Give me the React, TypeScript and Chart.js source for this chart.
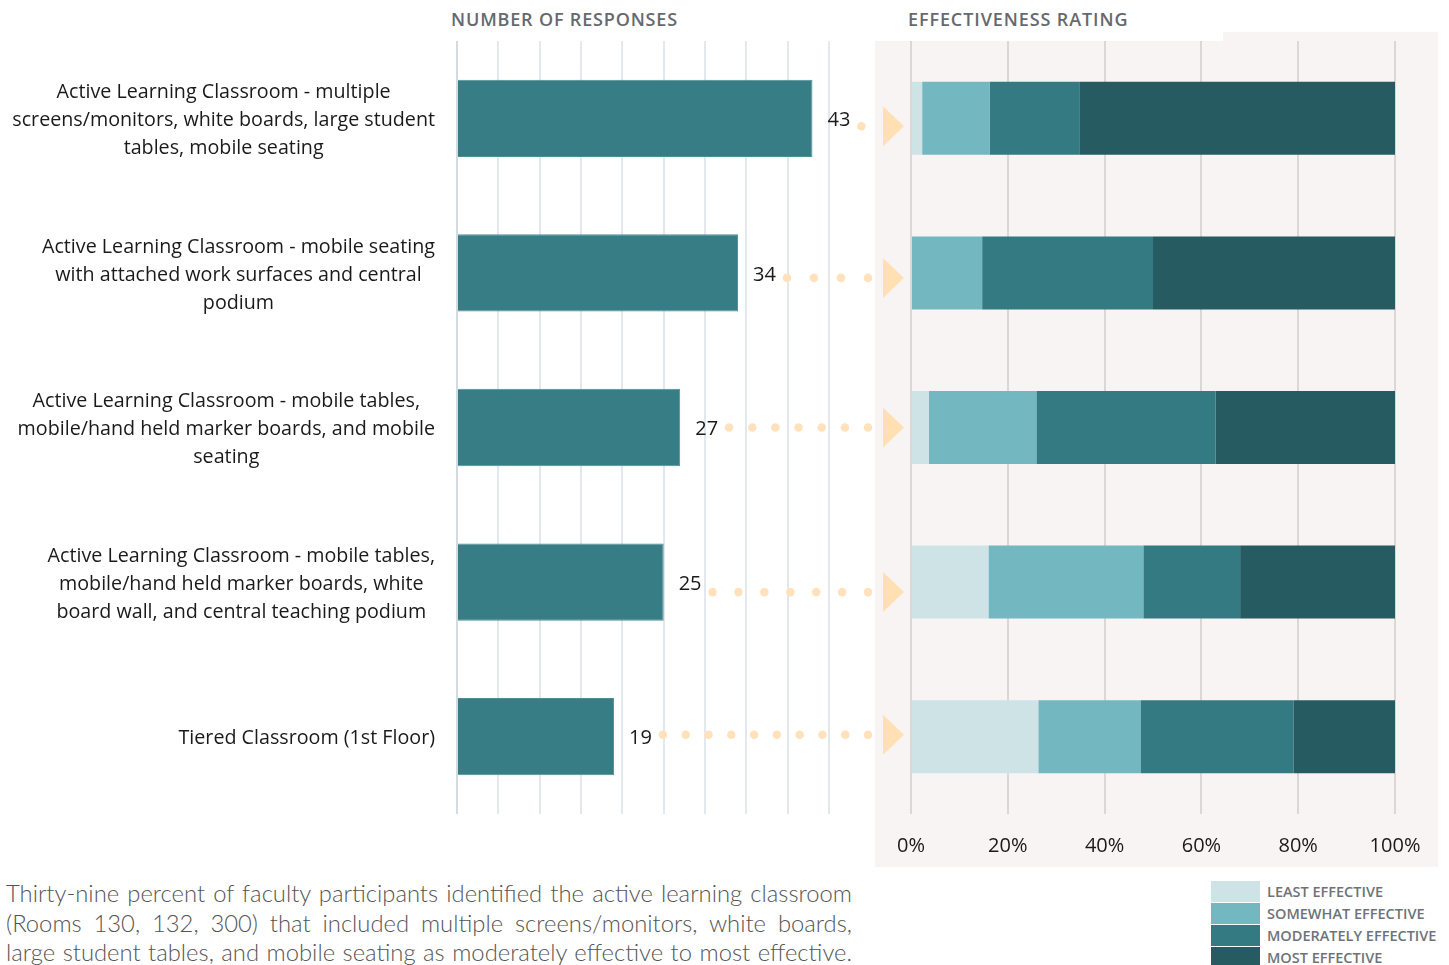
import React, { useEffect, useRef } from 'react';
import { Chart, registerables } from 'chart.js';
Chart.register(...registerables);

const categories: string[][] = [
  ['Active Learning Classroom - multiple', 'screens/monitors, white boards, large student', 'tables, mobile seating'],
  ['Active Learning Classroom - mobile seating', 'with attached work surfaces and central', 'podium'],
  ['Active Learning Classroom - mobile tables,', 'mobile/hand held marker boards, and mobile', 'seating'],
  ['Active Learning Classroom - mobile tables,', 'mobile/hand held marker boards, white', 'board wall, and central teaching podium'],
  ['Tiered Classroom (1st Floor)'],
];
const responses = [43, 34, 27, 25, 19];
const leastEffective = [2.3, 0, 3.7, 16, 26.3];
const somewhatEffective = [14.0, 14.7, 22.2, 32, 21.1];
const moderatelyEffective = [18.6, 35.3, 37.0, 20, 31.6];
const mostEffective = [65.1, 50.0, 37.1, 32, 21.0];
const seriesNames = ['LEAST EFFECTIVE', 'SOMEWHAT EFFECTIVE', 'MODERATELY EFFECTIVE', 'MOST EFFECTIVE'];
const seriesColors = ['#CEE3E6', '#73B8C0', '#347A82', '#265B62'];
const percentTicks = ['0%', '20%', '40%', '60%', '80%', '100%'];
const connectorOffsets = [8, 5, 0, 10, -2];
const captionLines = [
  'Thirty-nine percent of faculty participants identified the active learning classroom',
  '(Rooms 130, 132, 300) that included multiple screens/monitors, white boards,',
  'large student tables, and mobile seating as moderately effective to most effective.',
];

const FONT = '"Open Sans", "Noto Sans", sans-serif';
Chart.defaults.font.family = FONT;

const leftDecor = {
  id: 'leftDecor',
  afterDatasetsDraw(chart: any) {
    const ctx = chart.ctx;
    const ys = chart.scales.y;
    const xs = chart.scales.x;
    const ca = chart.chartArea;
    ctx.save();
    ctx.font = `19.7px ${FONT}`;
    ctx.fillStyle = '#1a1a1a';
    ctx.textBaseline = 'middle';
    categories.forEach((lines, i) => {
      const cy = ys.getPixelForValue(i) + 2;
      const maxW = Math.max(...lines.map((l) => ctx.measureText(l).width));
      const cx = ca.left - 22 - maxW / 2;
      ctx.textAlign = 'center';
      lines.forEach((l, j) => ctx.fillText(l, cx, cy + (j - (lines.length - 1) / 2) * 28));
    });
    ctx.font = `20px ${FONT}`;
    const arrowL = ca.right + 54;
    responses.forEach((v, i) => {
      const cy = ys.getPixelForValue(i);
      const xe = xs.getPixelForValue(v);
      ctx.textAlign = 'left';
      ctx.fillStyle = '#1a1a1a';
      ctx.fillText(String(v), xe + 15, cy + 2);
      const w = ctx.measureText(String(v)).width;
      const dy = cy + connectorOffsets[i];
      const start = xe + 15 + w + 11;
      const end = arrowL - 15;
      ctx.fillStyle = '#FFE2BC';
      const n = Math.max(1, Math.round((end - start) / 24) + 1);
      for (let k = 0; k < n; k++) {
        const px = n === 1 ? start : start + ((end - start) * k) / (n - 1);
        ctx.beginPath();
        ctx.arc(px, dy, 4.3, 0, Math.PI * 2);
        ctx.fill();
      }
      ctx.fillStyle = '#FFE0B3';
      ctx.beginPath();
      ctx.moveTo(arrowL, dy - 20);
      ctx.lineTo(arrowL + 21, dy);
      ctx.lineTo(arrowL, dy + 20);
      ctx.closePath();
      ctx.fill();
    });
    ctx.restore();
  },
};

export default function App() {
  const leftRef = useRef<HTMLCanvasElement>(null);
  const rightRef = useRef<HTMLCanvasElement>(null);

  useEffect(() => {
    const left = new Chart(leftRef.current!, {
      type: 'bar',
      data: {
        labels: categories.map((c) => c.join(' ')),
        datasets: [
          {
            data: responses,
            backgroundColor: '#367D85',
            borderColor: '#4E8E95',
            borderWidth: 1,
            barPercentage: 0.5,
            categoryPercentage: 1,
          },
        ],
      },
      options: {
        indexAxis: 'y',
        responsive: false,
        animation: false,
        layout: { padding: { left: 457, right: 81, top: 41, bottom: 16 } },
        plugins: { legend: { display: false }, tooltip: { enabled: false } },
        scales: {
          x: {
            min: 0,
            max: 45,
            ticks: { display: false, stepSize: 5 },
            border: { display: false },
            grid: {
              drawTicks: false,
              lineWidth: 2,
              color: (c: any) => (c.index === 0 ? '#D3DAE2' : '#E3E8EE'),
            },
          },
          y: { display: false },
        },
      },
      plugins: [leftDecor],
    });

    const stacks = [leastEffective, somewhatEffective, moderatelyEffective, mostEffective];
    const right = new Chart(rightRef.current!, {
      type: 'bar',
      data: {
        labels: categories.map((c) => c.join(' ')),
        datasets: stacks.map((d, i) => ({
          label: seriesNames[i],
          data: d,
          backgroundColor: seriesColors[i],
          barPercentage: 0.472,
          categoryPercentage: 1,
        })),
      },
      options: {
        indexAxis: 'y',
        responsive: false,
        animation: false,
        layout: { padding: { left: 36, right: 80, top: 41, bottom: 0 } },
        plugins: { legend: { display: false }, tooltip: { enabled: false } },
        scales: {
          x: {
            stacked: true,
            min: 0,
            max: 100,
            afterFit: (s: any) => {
              s.height = 53;
            },
            ticks: {
              stepSize: 20,
              padding: 20,
              color: '#1a1a1a',
              font: { size: 20 },
              maxRotation: 0,
              callback: (_v: any, i: number) => percentTicks[i],
            },
            border: { display: false },
            grid: { drawTicks: false, lineWidth: 2, color: '#DCD6D4' },
          },
          y: { stacked: true, display: false },
        },
      },
    });
    return () => {
      left.destroy();
      right.destroy();
    };
  }, []);

  const titleStyle: React.CSSProperties = {
    position: 'absolute',
    top: 8,
    fontFamily: FONT,
    fontWeight: 600,
    fontSize: 18,
    color: '#66696E',
    lineHeight: '22px',
    whiteSpace: 'nowrap',
  };

  return (
    <div style={{ position: 'absolute', left: 0, top: 0, width: 1449, height: 965, background: '#fff', overflow: 'hidden' }}>
      <div style={{ position: 'absolute', left: 875, top: 32, width: 563, height: 835, background: '#F8F4F3' }} />
      <div style={{ position: 'absolute', left: 875, top: 0, width: 348, height: 41, background: '#fff' }} />
      <div style={{ ...titleStyle, left: 451, letterSpacing: 0.83 }}>NUMBER OF RESPONSES</div>
      <div style={{ ...titleStyle, left: 908, letterSpacing: 0.9 }}>EFFECTIVENESS RATING</div>
      <canvas ref={rightRef} width={600} height={867} style={{ position: 'absolute', left: 875, top: 0 }} />
      <canvas ref={leftRef} width={910} height={830} style={{ position: 'absolute', left: 0, top: 0 }} />
      {captionLines.map((l, i) => (
        <div
          key={i}
          style={{
            position: 'absolute',
            left: 6,
            top: 878 + i * 29.5,
            width: 846,
            height: 30,
            lineHeight: '30px',
            fontFamily: 'Lato, sans-serif',
            fontWeight: 300,
            fontSize: 23.8,
            color: '#555',
            textAlign: 'justify',
            textAlignLast: 'justify',
            whiteSpace: 'nowrap',
          }}
        >
          {l}
        </div>
      ))}
      {seriesNames.map((n, i) => (
        <div key={n} style={{ position: 'absolute', left: 1211, top: 881 + i * 22, height: 21, display: 'flex', alignItems: 'center' }}>
          <div style={{ width: 49, height: 21, background: seriesColors[i] }} />
          <div
            style={{
              marginLeft: 7,
              fontFamily: FONT,
              fontWeight: 600,
              fontSize: 14.5,
              color: '#6E7378',
              whiteSpace: 'nowrap',
              lineHeight: '21px',
            }}
          >
            {n}
          </div>
        </div>
      ))}
    </div>
  );
}
